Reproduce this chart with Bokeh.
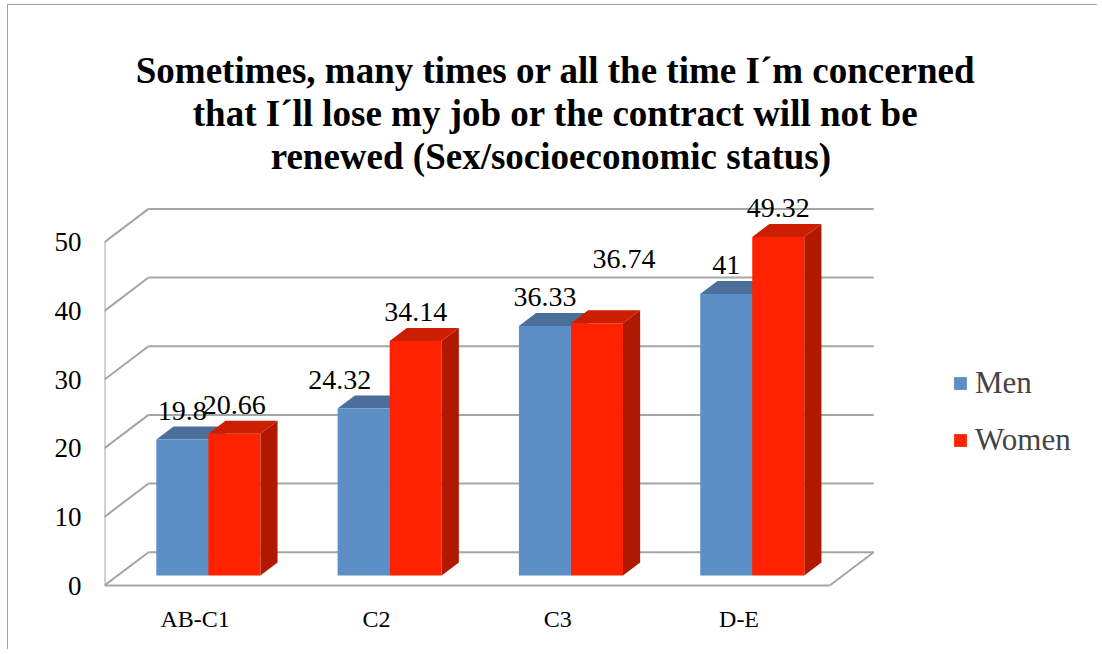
from bokeh.plotting import figure
from bokeh.models import Range1d, FixedTicker, Legend, LegendItem, Label
from bokeh.embed import file_html
from bokeh.resources import INLINE

# ---------------- data ----------------
categories = ["AB-C1", "C2", "C3", "D-E"]
men = [19.8, 24.32, 36.33, 41]
women = [20.66, 34.14, 36.74, 49.32]
series_names = ["Men", "Women"]
y_ticks = [0, 10, 20, 30, 40, 50]
title_lines = [
    "Sometimes, many times or all the time I\u00b4m concerned",
    "that I\u00b4ll lose my job or the contract will not be",
    "renewed  (Sex/socioeconomic status)",
]

# ---------------- geometry / style ----------------
W, H = 1090, 645
FL, FB = 96, 55            # frame left / bottom borders (px)
FRAME_W = W - FL
FRAME_H = H - FB
PX_X = 181.3               # px per category unit
PX_Y = 6.866               # px per value unit
Y0_PX = 10                 # value 0 sits this many px above frame bottom
x0 = 0.0
x1 = FRAME_W / PX_X
y0 = -Y0_PX / PX_Y
y1 = y0 + FRAME_H / PX_Y

DX = 44 / PX_X             # 3D depth shift in x units
DY = 33.3 / PX_Y           # 3D depth shift in value units
F1, F2 = 0.30, 0.69        # bar depth fraction (front, back)
BW = 0.287                 # bar width in category units
BASE_FIX = 0.345           # baseline correction (em) for Label text

GRID = "#a5a5a5"
MEN_C = ("#5b8fc5", "#4a6f9b", "#3f5f86")
WOM_C = ("#ff2200", "#cc1e00", "#b01800")
SERIF = "Liberation Serif"
LBL_FS = 28
TTL_FS = 37

p = figure(width=W, height=H, output_backend="svg", toolbar_location=None,
           x_range=Range1d(x0, x1), y_range=Range1d(y0, y1),
           min_border_left=FL, min_border_bottom=FB, min_border_top=0,
           min_border_right=0, tools="")
p.styles = {"border-left": "1px solid #a0a0a0", "border-top": "1px solid #a0a0a0",
            "margin-left": "7px", "margin-top": "4px"}
p.outline_line_color = None
p.grid.visible = False
p.background_fill_color = "white"
p.border_fill_color = "white"

n = len(categories)
top = max(y_ticks)

# back wall gridlines
p.multi_line(xs=[[0 + DX, n + DX] for t in y_ticks],
             ys=[[t + DY, t + DY] for t in y_ticks],
             line_color=GRID, line_width=2)
# side wall diagonals
p.multi_line(xs=[[0, DX] for t in y_ticks],
             ys=[[t, t + DY] for t in y_ticks],
             line_color=GRID, line_width=2)
# front left vertical, floor front & right edges
p.multi_line(xs=[[0, 0], [0, n], [n, n + DX]],
             ys=[[0, top], [0, 0], [0, DY]],
             line_color=GRID, line_width=2)

# bars
def draw_series(vals, offset, cols):
    xa = [i + 0.5 + offset for i in range(n)]
    xb = [x + BW for x in xa]
    # side face
    p.patches(xs=[[b + F1 * DX, b + F2 * DX, b + F2 * DX, b + F1 * DX] for b in xb],
              ys=[[F1 * DY, F2 * DY, v + F2 * DY, v + F1 * DY] for v in vals],
              fill_color=cols[2], line_color=None)
    # top face
    p.patches(xs=[[a + F1 * DX, b + F1 * DX, b + F2 * DX, a + F2 * DX] for a, b in zip(xa, xb)],
              ys=[[v + F1 * DY, v + F1 * DY, v + F2 * DY, v + F2 * DY] for v in vals],
              fill_color=cols[1], line_color=None)
    # front face
    r = p.quad(left=[a + F1 * DX for a in xa], right=[b + F1 * DX for b in xb],
               bottom=[F1 * DY] * n, top=[v + F1 * DY for v in vals],
               fill_color=cols[0], line_color=None)
    return r, xa

r_men, xa_men = draw_series(men, -BW, MEN_C)
r_wom, xa_wom = draw_series(women, 0.0, WOM_C)

# data labels (a couple were moved by hand in the original); offsets: +x right, +y up
men_label_shift = [(0, 0), (-24, 0), (0, 0), (0, 0)]
wom_label_shift = [(0, 0), (0, 0), (27, 36), (0, 0)]
for vals, xa, shifts in ((men, xa_men, men_label_shift), (women, xa_wom, wom_label_shift)):
    for i in range(n):
        p.add_layout(Label(x=xa[i] + BW / 2 + F1 * DX, y=vals[i] + F1 * DY,
                           text=f"{vals[i]:g}", x_offset=shifts[i][0],
                           y_offset=19 + shifts[i][1] + BASE_FIX * LBL_FS,
                           text_align="center", text_baseline="alphabetic",
                           text_font=SERIF, text_font_size=f"{LBL_FS}px",
                           text_color="black"))

# title (3 centered lines)
title_x = (555 - 104) / PX_X
title_base_px = [82.7, 125.5, 168.3]
for line, b in zip(title_lines, title_base_px):
    p.add_layout(Label(x=title_x, y=(585 - b) / PX_Y, text=line,
                       y_offset=BASE_FIX * TTL_FS,
                       text_align="center", text_baseline="alphabetic",
                       text_font=SERIF, text_font_style="bold",
                       text_font_size=f"{TTL_FS}px", text_color="black"))

# axes
p.yaxis.ticker = FixedTicker(ticks=y_ticks)
p.yaxis.axis_line_color = None
p.yaxis.major_tick_line_color = None
p.yaxis.minor_tick_line_color = None
p.yaxis.major_tick_out = 0
p.yaxis.major_tick_in = 0
p.yaxis.major_label_standoff = 23
p.yaxis.major_label_text_font = SERIF
p.yaxis.major_label_text_font_size = "27px"
p.yaxis.major_label_text_color = "black"

p.xaxis.ticker = FixedTicker(ticks=[i + 0.5 for i in range(n)])
p.xaxis.major_label_overrides = {i + 0.5: c for i, c in enumerate(categories)}
p.xaxis.axis_line_color = None
p.xaxis.major_tick_line_color = None
p.xaxis.minor_tick_line_color = None
p.xaxis.major_tick_out = 0
p.xaxis.major_tick_in = 0
p.xaxis.major_label_standoff = 10
p.xaxis.major_label_text_font = SERIF
p.xaxis.major_label_text_font_size = "24px"
p.xaxis.major_label_text_color = "black"

# legend
legend = Legend(items=[LegendItem(label=series_names[0], renderers=[r_men]),
                       LegendItem(label=series_names[1], renderers=[r_wom])],
                location=(848, 137), orientation="vertical",
                glyph_width=16, glyph_height=16, label_standoff=7,
                label_text_font=SERIF, label_text_font_size="31px",
                spacing=21, padding=0, margin=0,
                border_line_color=None, background_fill_alpha=0)
p.add_layout(legend, "center")

open("out.html", "w").write(file_html(p, INLINE))
